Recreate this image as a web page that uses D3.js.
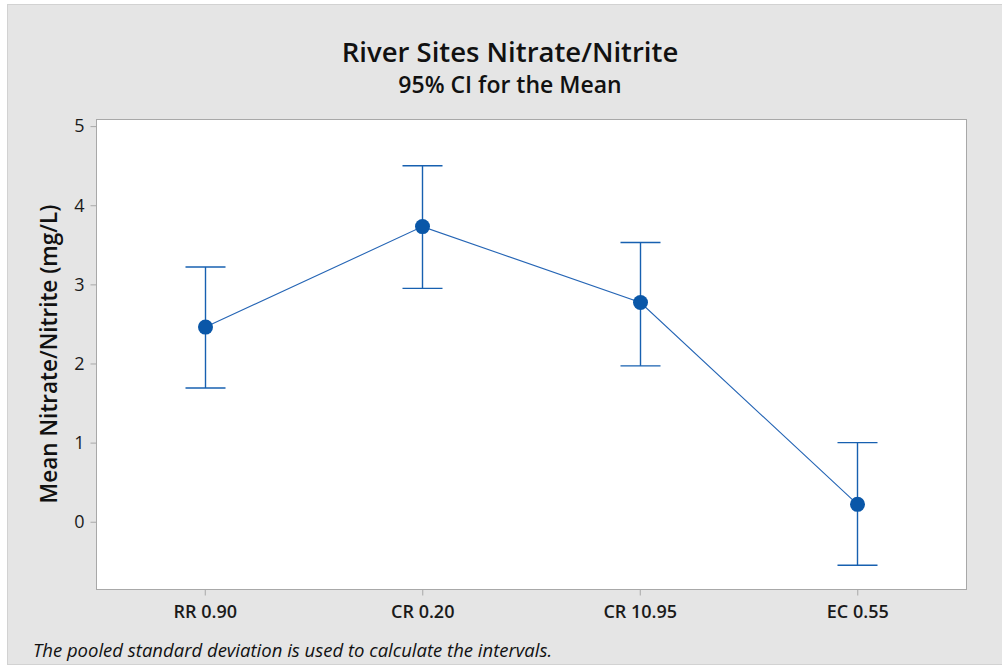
<!DOCTYPE html>
<html>
<head>
<meta charset="utf-8">
<script src="https://cdn.jsdelivr.net/npm/d3@7"></script>
<style>
  html, body { margin: 0; padding: 0; background: #ffffff; }
  svg { display: block; font-family: "Open Sans", "Noto Sans", sans-serif; }
</style>
</head>
<body>
<svg id="chart" width="1002" height="667"></svg>
<script>
// Sites, group means and 95% confidence limits (mg/L)
const sites = ["RR 0.90", "CR 0.20", "CR 10.95", "EC 0.55"];
const means = [2.46, 3.73, 2.77, 0.22];
const lower = [1.69, 2.95, 1.97, -0.55];
const upper = [3.22, 4.50, 3.53, 1.00];
const yTicks = [0, 1, 2, 3, 4, 5];

const rows = sites.map((s, i) => ({ site: s, mean: means[i], lo: lower[i], hi: upper[i] }));

const svg = d3.select("#chart");
const W = 1002, H = 667;
const plot = { left: 96, right: 966, top: 119, bottom: 589 };
const font = "'Open Sans', 'Noto Sans', sans-serif";

// Figure background panel
svg.append("rect")
  .attr("x", 7.5).attr("y", 4.5)
  .attr("width", W - 7).attr("height", 660)
  .attr("fill", "#e5e5e5")
  .attr("stroke", "#d2d2d2");

const x = d3.scalePoint()
  .domain(sites)
  .range([plot.left, plot.right])
  .padding(0.5);

const y = d3.scaleLinear()
  .domain([-0.85, 5.09])
  .range([plot.bottom, plot.top]);

// Plot area
svg.append("rect")
  .attr("x", plot.left + 0.5).attr("y", plot.top + 0.5)
  .attr("width", plot.right - plot.left).attr("height", plot.bottom - plot.top)
  .attr("fill", "#ffffff")
  .attr("stroke", "#a8a8a8");

// Y axis
const yAxis = svg.append("g")
  .attr("transform", `translate(${plot.left + 0.5},0)`)
  .call(d3.axisLeft(y).tickValues(yTicks).tickSize(6).tickPadding(6).tickFormat(d3.format("d")));
yAxis.select(".domain").remove();
yAxis.selectAll(".tick line").attr("stroke", "#a8a8a8");
yAxis.selectAll(".tick text")
  .attr("fill", "#1a1a1a")
  .style("font-size", "18px")
  .style("font-family", font);

// X axis
const xAxis = svg.append("g")
  .attr("transform", `translate(0,${plot.bottom + 0.5})`)
  .call(d3.axisBottom(x).tickSize(6).tickPadding(10));
xAxis.select(".domain").remove();
xAxis.selectAll(".tick line").attr("stroke", "#a8a8a8");
xAxis.selectAll(".tick text")
  .attr("fill", "#1a1a1a")
  .style("font-size", "18px")
  .style("font-weight", "600")
  .style("font-family", font);

const blue = "#0a57a8";
const capHalf = 20;

// Interval bars with caps
const bars = svg.append("g").attr("stroke", "#1760b0").attr("stroke-width", 1.4).attr("fill", "none");
rows.forEach(d => {
  const cx = Math.round(x(d.site)) + 0.5;
  bars.append("line").attr("x1", cx).attr("x2", cx).attr("y1", y(d.lo)).attr("y2", y(d.hi));
  bars.append("line").attr("x1", cx - capHalf).attr("x2", cx + capHalf).attr("y1", y(d.hi)).attr("y2", y(d.hi));
  bars.append("line").attr("x1", cx - capHalf).attr("x2", cx + capHalf).attr("y1", y(d.lo)).attr("y2", y(d.lo));
});

// Line connecting the means
svg.append("path")
  .datum(rows)
  .attr("fill", "none")
  .attr("stroke", "#2565b5")
  .attr("stroke-width", 1.1)
  .attr("d", d3.line().x(d => Math.round(x(d.site)) + 0.5).y(d => y(d.mean)));

// Mean markers
svg.append("g").selectAll("circle")
  .data(rows)
  .join("circle")
  .attr("cx", d => Math.round(x(d.site)) + 0.5)
  .attr("cy", d => y(d.mean))
  .attr("r", 7.5)
  .attr("fill", blue);

// Titles
svg.append("text")
  .attr("x", 510).attr("y", 62)
  .attr("text-anchor", "middle")
  .attr("fill", "#111")
  .style("font-size", "27.5px")
  .style("font-weight", "600")
  .text("River Sites Nitrate/Nitrite");

svg.append("text")
  .attr("x", 510).attr("y", 93)
  .attr("text-anchor", "middle")
  .attr("fill", "#111")
  .style("font-size", "23px")
  .style("font-weight", "600")
  .text("95% CI for the Mean");

// Y axis title
svg.append("text")
  .attr("transform", "translate(57,354) rotate(-90)")
  .attr("text-anchor", "middle")
  .attr("fill", "#111")
  .style("font-size", "22.5px")
  .style("font-weight", "600")
  .text("Mean Nitrate/Nitrite (mg/L)");

// Footnote
svg.append("text")
  .attr("x", 33).attr("y", 657)
  .attr("fill", "#111")
  .style("font-size", "18.5px")
  .style("font-style", "italic")
  .text("The pooled standard deviation is used to calculate the intervals.");
</script>
</body>
</html>
